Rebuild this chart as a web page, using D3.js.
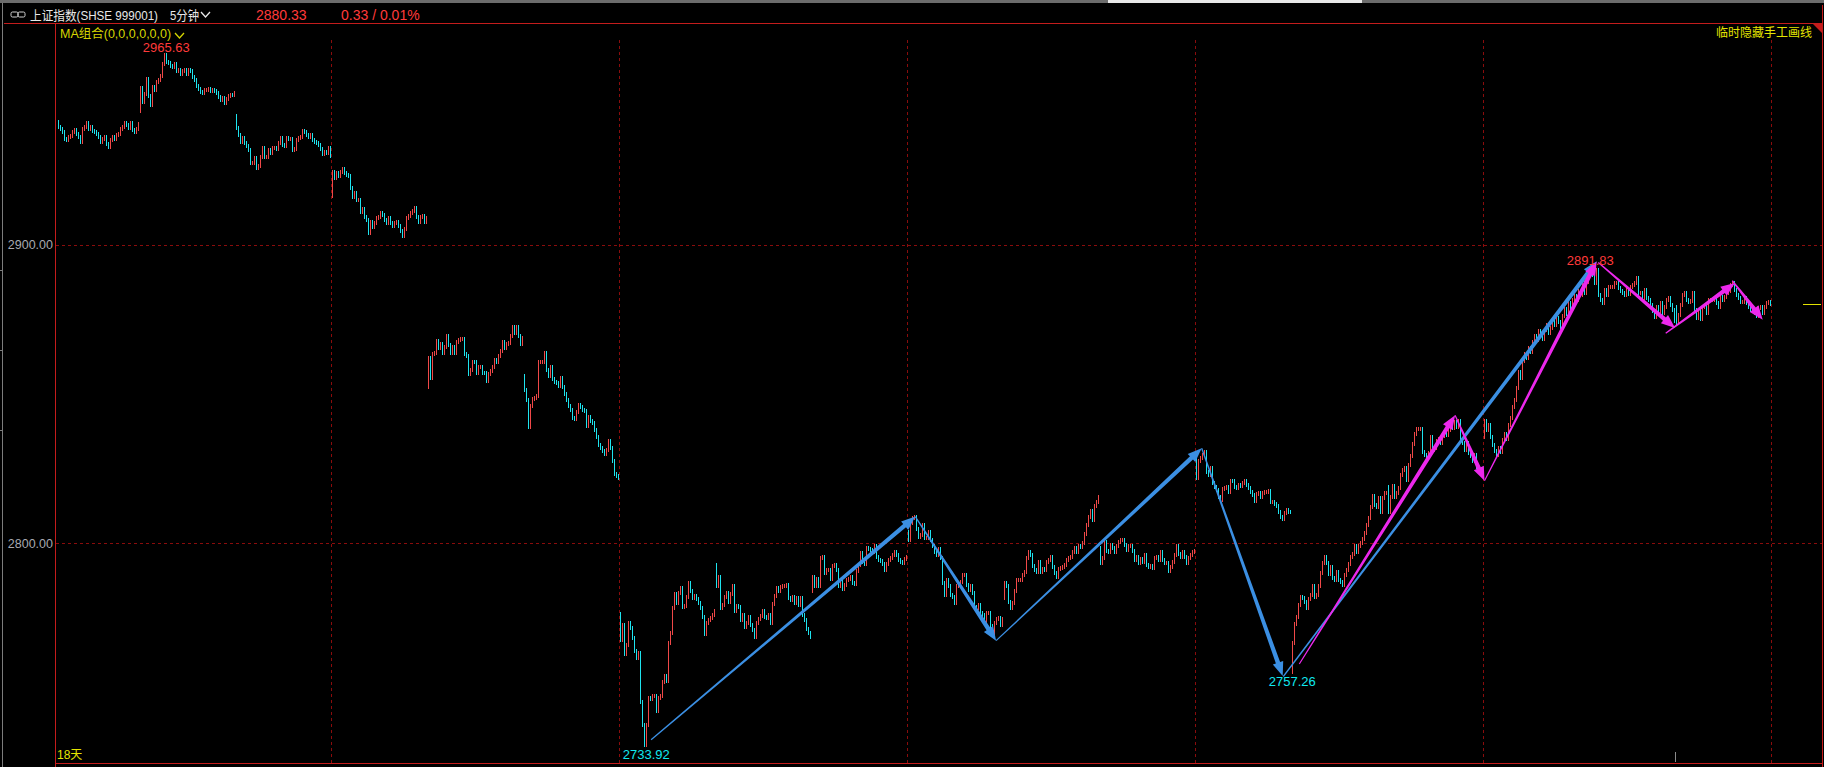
<!DOCTYPE html>
<html><head><meta charset="utf-8">
<script src="https://cdn.jsdelivr.net/npm/d3@7"></script>
<style>
html,body{margin:0;padding:0;background:#000;overflow:hidden;}
svg{display:block;}
</style></head>
<body>
<svg id="c" width="1824" height="767"></svg>
<script>
// ---------------- data ----------------
const firstVisibleBar = 7;      // bars of day 1 before this one are scrolled off the left edge
const barsPerDay = 48;          // 5-minute bars per session
const dayCount = 18;
const yTicks = [2900, 2800];
const tickLabels = ["2900.00", "2800.00"];
const dayOpens = [2941.3, 2945.0, 2943.2, 2916.5, 2852.3, 2856.1, 2776.3, 2792.7, 2783.8,
                  2803.6, 2781.5, 2798.3, 2829.6, 2756.9, 2818.8, 2835.5, 2884.0, 2879.3];
const closes = [
 [2939.4,2938.8,2938.0,2935.4,2935.2,2936.1,2936.5,2937.7,2938.6,2937.2,2936.1,2934.6,2938.8,2939.4,2941.0,2938.8,2939.4,2938.3,2937.7,2937.1,2936.1,2934.6,2935.6,2936.1,2933.9,2932.7,2935.2,2936.1,2935.6,2936.8,2937.2,2939.0,2939.4,2941.0,2940.1,2939.2,2940.8,2938.6,2938.0,2939.0,2940.6],
 [2952.5,2948.0,2950.5,2955.5,2950.0,2947.0,2953.0,2952.0,2954.7,2955.2,2956.6,2960.7,2963.6,2961.2,2961.0,2960.0,2959.6,2960.6,2958.2,2958.5,2957.2,2958.3,2958.6,2957.4,2958.6,2958.4,2956.3,2955.3,2953.2,2952.3,2951.3,2951.0,2951.8,2952.0,2952.3,2951.5,2951.8,2951.5,2951.0,2949.6,2948.5,2949.2,2947.7,2949.0,2950.0,2950.4,2950.2,2950.8],
 [2939.1,2936.9,2934.6,2936.0,2934.1,2933.2,2931.8,2927.4,2927.6,2929.0,2925.9,2926.3,2929.6,2932.4,2929.4,2929.6,2931.8,2930.7,2932.4,2932.4,2932.0,2934.1,2935.8,2933.5,2933.2,2935.8,2935.5,2935.5,2931.8,2932.0,2935.2,2935.8,2936.1,2938.3,2937.7,2936.9,2936.3,2936.9,2935.2,2934.6,2934.1,2933.5,2932.0,2930.5,2931.3,2930.7,2932.4,2929.8],
 [2924.5,2922.5,2924.0,2923.0,2924.5,2925.5,2924.0,2923.5,2923.0,2919.0,2916.0,2917.3,2914.9,2914.9,2911.2,2912.1,2909.5,2908.2,2904.1,2907.8,2906.1,2907.3,2909.0,2909.5,2910.6,2910.1,2908.4,2907.3,2908.9,2907.3,2906.4,2907.5,2907.8,2906.2,2904.5,2903.0,2905.3,2909.0,2909.7,2910.6,2911.5,2912.3,2909.2,2907.8,2909.2,2909.7,2907.8,2909.0],
 [2862.0,2855.5,2863.5,2863.7,2867.8,2865.4,2866.7,2863.7,2865.9,2869.3,2866.5,2863.9,2865.9,2863.7,2867.4,2868.2,2868.4,2868.5,2863.5,2862.8,2856.7,2857.9,2860.9,2860.7,2857.2,2859.0,2859.2,2857.2,2857.0,2854.5,2856.7,2857.8,2859.2,2861.5,2860.6,2862.6,2864.5,2867.4,2865.6,2866.7,2867.0,2869.3,2872.6,2870.4,2872.6,2869.3,2866.8,2868.9],
 [2851.2,2848.0,2839.1,2846.0,2848.4,2848.6,2849.4,2860.6,2860.6,2860.9,2863.9,2857.9,2856.1,2859.0,2855.0,2854.2,2853.6,2852.8,2855.3,2852.2,2849.9,2848.0,2846.0,2844.7,2842.1,2841.6,2844.0,2846.4,2845.6,2844.7,2844.3,2839.3,2842.4,2840.8,2840.2,2837.8,2835.7,2833.0,2831.8,2830.9,2830.0,2831.3,2834.2,2831.8,2827.7,2823.2,2822.4,2822.0],
 [2767.4,2772.6,2762.8,2765.9,2773.2,2771.5,2768.1,2763.7,2761.4,2763.1,2746.6,2739.1,2732.3,2739.1,2748.0,2747.6,2748.6,2748.8,2743.6,2748.0,2748.6,2753.3,2755.5,2753.8,2766.5,2770.0,2778.2,2783.0,2779.9,2783.2,2784.9,2778.5,2779.0,2781.8,2786.6,2784.1,2781.6,2782.3,2781.2,2779.9,2778.2,2775.4,2769.6,2773.2,2774.3,2774.9,2776.0,2777.4],
 [2785.5,2788.6,2778.2,2779.3,2782.1,2783.2,2780.4,2783.0,2785.5,2777.4,2778.8,2778.5,2774.3,2775.9,2772.0,2773.4,2775.4,2772.6,2770.9,2768.7,2773.2,2774.5,2775.6,2777.4,2775.4,2774.9,2776.0,2773.4,2779.7,2782.3,2784.9,2783.8,2785.2,2785.5,2785.7,2786.0,2781.6,2781.0,2781.9,2779.9,2781.6,2779.3,2781.6,2776.0,2774.3,2771.2,2769.8,2768.5],
 [2788.6,2785.5,2787.9,2785.7,2795.0,2795.5,2790.0,2791.0,2791.0,2787.9,2792.4,2792.7,2791.0,2785.5,2787.5,2784.6,2786.0,2787.5,2787.9,2788.6,2786.6,2786.4,2790.8,2792.7,2796.6,2793.8,2793.1,2798.3,2798.0,2797.8,2797.2,2798.9,2795.5,2794.2,2793.9,2793.1,2791.1,2793.1,2794.2,2795.0,2796.1,2796.9,2796.1,2794.4,2793.8,2793.3,2794.7,2795.5],
 [2801.1,2806.7,2808.4,2808.9,2804.7,2802.2,2802.8,2806.1,2801.7,2801.7,2803.6,2801.1,2799.1,2797.2,2796.1,2798.0,2795.0,2786.8,2782.7,2787.7,2785.5,2782.7,2782.1,2780.1,2785.5,2786.8,2787.1,2789.4,2789.4,2786.0,2784.3,2785.7,2783.2,2778.7,2778.2,2779.3,2776.5,2776.0,2773.2,2776.5,2776.5,2772.1,2770.0,2773.2,2774.5,2774.8,2772.6,2774.5],
 [2786.8,2785.7,2780.4,2778.2,2780.1,2783.8,2787.7,2787.7,2787.7,2789.4,2790.5,2794.9,2797.2,2796.1,2792.2,2791.1,2790.5,2793.8,2790.2,2791.3,2791.1,2793.8,2794.4,2795.5,2791.9,2789.9,2788.6,2791.3,2791.6,2791.9,2792.7,2794.4,2794.9,2795.5,2796.9,2798.3,2797.2,2798.9,2798.6,2800.2,2803.0,2806.1,2808.9,2810.9,2807.8,2812.5,2813.9,2815.4],
 [2793.3,2795.0,2800.5,2797.5,2796.9,2799.4,2798.3,2796.9,2798.9,2800.5,2801.1,2801.1,2799.4,2797.8,2798.9,2798.9,2797.5,2794.4,2795.3,2793.3,2794.6,2793.8,2796.1,2792.7,2792.0,2792.2,2791.6,2794.9,2795.3,2794.2,2797.2,2794.4,2793.3,2793.3,2790.8,2792.0,2793.8,2796.1,2798.9,2796.4,2795.3,2797.2,2795.3,2793.3,2794.9,2796.1,2796.9,2797.5],
 [2821.8,2827.4,2828.5,2829.6,2830.7,2824.0,2822.9,2825.1,2820.1,2819.0,2817.9,2815.6,2814.5,2818.1,2818.4,2818.8,2817.3,2821.0,2820.7,2818.8,2818.4,2819.6,2819.2,2820.1,2820.7,2819.6,2818.4,2817.3,2816.2,2814.2,2816.4,2816.7,2815.4,2816.7,2817.0,2817.3,2817.6,2813.9,2813.9,2813.1,2812.5,2810.6,2808.9,2808.0,2810.0,2811.1,2810.6,2810.3],
 [2766.6,2772.9,2775.4,2779.3,2782.1,2781.5,2780.4,2778.2,2781.2,2782.7,2785.5,2782.1,2782.7,2785.7,2789.9,2793.3,2795.5,2793.3,2789.7,2791.9,2788.3,2787.7,2790.5,2787.7,2787.1,2786.0,2789.4,2791.1,2793.0,2795.5,2796.4,2798.9,2797.2,2798.9,2800.0,2801.3,2803.3,2806.1,2808.4,2812.1,2815.8,2812.8,2812.0,2815.1,2810.6,2815.1,2816.7,2816.7],
 [2810.6,2815.6,2819.2,2815.6,2816.7,2818.4,2822.9,2824.6,2825.1,2821.2,2826.2,2829.3,2833.3,2836.6,2838.2,2838.2,2838.2,2830.7,2829.6,2829.3,2830.2,2835.7,2831.3,2831.8,2834.1,2835.0,2833.5,2836.0,2837.0,2836.3,2837.8,2839.6,2838.5,2840.5,2839.1,2840.8,2834.6,2833.5,2831.3,2833.5,2830.2,2829.1,2827.4,2829.6,2825.7,2824.6,2823.5,2822.9],
 [2841.0,2838.0,2839.5,2835.5,2833.0,2831.0,2829.5,2832.0,2830.5,2834.5,2836.5,2835.0,2839.5,2842.0,2845.5,2848.0,2852.0,2857.5,2855.5,2861.0,2863.5,2862.0,2865.5,2864.0,2867.5,2869.5,2868.0,2871.0,2870.0,2868.5,2871.5,2873.0,2870.5,2872.0,2874.5,2873.0,2875.5,2874.0,2872.5,2876.0,2878.5,2877.0,2880.5,2879.0,2881.5,2883.0,2881.5,2884.5],
 [2883.2,2887.2,2883.8,2887.7,2890.5,2891.1,2890.0,2887.2,2891.5,2883.2,2881.6,2880.4,2884.9,2883.2,2886.0,2886.0,2886.0,2887.2,2887.2,2885.5,2884.4,2883.8,2883.2,2884.9,2883.6,2886.0,2886.6,2887.2,2888.8,2883.8,2883.8,2882.1,2884.9,2882.1,2881.6,2879.9,2877.7,2875.7,2879.3,2877.7,2880.4,2877.3,2879.3,2881.6,2882.1,2879.9,2878.2,2874.5],
 [2873.8,2876.5,2879.9,2883.2,2883.8,2881.6,2881.0,2881.3,2883.8,2878.2,2875.4,2878.2,2875.1,2879.3,2879.3,2877.1,2881.6,2881.6,2881.6,2882.1,2880.4,2879.3,2882.7,2881.6,2882.7,2883.8,2884.4,2886.6,2887.2,2884.9,2883.2,2882.1,2881.0,2881.0,2882.1,2880.4,2879.3,2878.2,2877.7,2877.1,2876.0,2878.8,2879.3,2877.3,2879.3,2880.4,2881.0,2880.33]
];
const lastPrice = 2880.33;
// hand-drawn trend arrows: [startBar, startPrice, endBar, endPrice]
const blueArrows = [
 [303.4, 2734.1, 435.5, 2808.9],
 [435.5, 2808.9, 475.9, 2767.3],
 [475.9, 2767.3, 578.7, 2831.8],
 [578.7, 2831.8, 619.2, 2755.5],
 [619.5, 2755.3, 776.2, 2894.5]
];
const pinkArrows = [
 [627.5, 2759.5, 705.4, 2842.9],
 [705.4, 2842.9, 720.1, 2820.9],
 [720.1, 2820.9, 776.2, 2894.4],
 [777.0, 2894.1, 815.4, 2872.1],
 [810.7, 2870.4, 845.3, 2887.2],
 [844.0, 2888.0, 859.2, 2874.9]
];
// extreme price marks: bar, value, text
const markBars = [61, 301, 624, 776];
const markValues = [2965.63, 2733.92, 2757.26, 2891.83];
const markTexts = ["2965.63", "2733.92", "2757.26", "2891.83"];

// ---------------- drawing ----------------
const W = 1824, H = 767;
const plot = {left: 55, right: 1822, top: 23, bottom: 763};
const svg = d3.select("#c");
const x = d3.scaleLinear().domain([0, barsPerDay * dayCount]).range([43.3, 43.3 + 2 * barsPerDay * dayCount]);
const y = d3.scaleLinear().domain([2726.3, 2974.4]).range([plot.bottom, plot.top]);

const RED = "#f04848", CYAN = "#1ee3ee", GRID = "#8a0c0c", BORDER = "#c41c1c";
const NUMF = "'Liberation Sans', Arial, sans-serif";
const CJKF = "'Liberation Sans', 'Noto Sans CJK SC', sans-serif";

svg.append("rect").attr("width", W).attr("height", H).attr("fill", "#000");
// top strip
svg.append("rect").attr("x", 0).attr("y", 0).attr("width", W).attr("height", 3).attr("fill", "#6c6c6c");
svg.append("rect").attr("x", 1108).attr("y", 0).attr("width", 254).attr("height", 3).attr("fill", "#e8e8e8");

// defs clip
svg.append("defs").append("clipPath").attr("id", "pc").append("rect")
  .attr("x", plot.left + 1).attr("y", plot.top + 1)
  .attr("width", plot.right - plot.left - 1).attr("height", plot.bottom - plot.top - 1);

// grid: horizontal
const gridG = svg.append("g");
gridG.selectAll("line.h").data(yTicks).join("line")
  .attr("x1", plot.left + 1).attr("x2", plot.right)
  .attr("y1", d => Math.round(y(d)) + 0.5).attr("y2", d => Math.round(y(d)) + 0.5)
  .attr("stroke", GRID).attr("stroke-dasharray", "3,3");
// grid: vertical every 3 sessions
const vLines = d3.range(1, dayCount / 3 + 1).map(i => i * 3 * barsPerDay);
gridG.selectAll("line.v").data(vLines).join("line")
  .attr("x1", d => Math.round(x(d)) + 0.5).attr("x2", d => Math.round(x(d)) + 0.5)
  .attr("y1", 40).attr("y2", plot.bottom)
  .attr("stroke", GRID).attr("stroke-dasharray", "3,3");

// y tick labels
svg.selectAll("text.yt").data(yTicks).join("text")
  .attr("x", 53).attr("y", d => y(d) + 4.5).attr("text-anchor", "end")
  .attr("font-family", NUMF).attr("font-size", 12.5).attr("fill", "#a7a9b0")
  .text((d, i) => tickLabels[i]);

// build bars
const bars = [];
closes.forEach((day, d) => {
  let prev = dayOpens[d];
  day.forEach((c, k) => {
    const g = d === 0 ? firstVisibleBar + k : d * barsPerDay + k;
    bars.push({g, o: prev, c});
    prev = c;
  });
});
const barG = svg.append("g").attr("clip-path", "url(#pc)");
barG.selectAll("line").data(bars).join("line")
  .attr("x1", d => Math.floor(x(d.g + 0.5)) + 0.5)
  .attr("x2", d => Math.floor(x(d.g + 0.5)) + 0.5)
  .attr("y1", d => Math.round(y(Math.max(d.o, d.c))) - 2)
  .attr("y2", d => Math.round(y(Math.min(d.o, d.c))) + 2)
  .attr("stroke", d => d.c >= d.o ? RED : CYAN).attr("stroke-width", 1)
  .attr("shape-rendering", "crispEdges");

// arrows
function arrowPath(a) {
  const p0 = [x(a[0] + 0.5), y(a[1])], p1 = [x(a[2] + 0.5), y(a[3])];
  const dx = p1[0] - p0[0], dy = p1[1] - p0[1], len = Math.hypot(dx, dy);
  const ux = dx / len, uy = dy / len, nx = -uy, ny = ux;
  const L = 14, HW = 5.5, w0 = 0.6, w1 = 2.2;
  const b = [p1[0] - ux * L, p1[1] - uy * L];
  const pts = [
    [p0[0] + nx * w0, p0[1] + ny * w0],
    [b[0] + nx * w1, b[1] + ny * w1],
    [b[0] + nx * HW, b[1] + ny * HW],
    p1,
    [b[0] - nx * HW, b[1] - ny * HW],
    [b[0] - nx * w1, b[1] - ny * w1],
    [p0[0] - nx * w0, p0[1] - ny * w0]
  ];
  return "M" + pts.map(p => p[0].toFixed(1) + "," + p[1].toFixed(1)).join("L") + "Z";
}
const arrG = svg.append("g").attr("clip-path", "url(#pc)");
arrG.selectAll("path.b").data(blueArrows).join("path").attr("d", arrowPath).attr("fill", "#3b8fe3");
arrG.selectAll("path.p").data(pinkArrows).join("path").attr("d", arrowPath).attr("fill", "#ec28ec");

// extreme marks
const markDy = [-1.5, 14, 11, -9];
const markCol = ["#ff3a3a", "#10e8f0", "#10e8f0", "#ff3a3a"];
svg.selectAll("text.mk").data(markBars).join("text")
  .attr("x", (d, i) => x(d + 0.5) + (i === 3 ? -6 : 0))
  .attr("y", (d, i) => y(markValues[i]) + markDy[i] + 4.5)
  .attr("text-anchor", "middle").attr("font-family", NUMF).attr("font-size", 13)
  .attr("fill", (d, i) => markCol[i]).text((d, i) => markTexts[i]);

// current price marker
svg.append("line").attr("x1", 1803).attr("x2", 1821)
  .attr("y1", Math.round(y(lastPrice)) + 0.5).attr("y2", Math.round(y(lastPrice)) + 0.5)
  .attr("stroke", "#e2e200");

// borders
const bd = svg.append("g").attr("stroke", BORDER).attr("shape-rendering", "crispEdges");
bd.append("line").attr("x1", 4).attr("x2", plot.right).attr("y1", plot.top + 0.5).attr("y2", plot.top + 0.5);
bd.append("line").attr("x1", plot.left + 0.5).attr("x2", plot.left + 0.5).attr("y1", plot.top).attr("y2", H);
bd.append("line").attr("x1", plot.left).attr("x2", plot.right).attr("y1", plot.bottom + 0.5).attr("y2", plot.bottom + 0.5);
bd.append("line").attr("x1", plot.right + 0.5).attr("x2", plot.right + 0.5).attr("y1", 5).attr("y2", H);
// left gray rail
svg.append("line").attr("x1", 2.5).attr("x2", 2.5).attr("y1", 3).attr("y2", H).attr("stroke", "#7c7c7c");
[270, 350, 430].forEach(t => svg.append("line").attr("x1", 0).attr("x2", 3).attr("y1", t + 0.5).attr("y2", t + 0.5).attr("stroke", "#7c7c7c"));
// corner triangle
svg.append("path").attr("d", "M1813,24L1822,24L1822,33Z").attr("fill", "#c41c1c");
// bottom small tick
svg.append("line").attr("x1", 1675.5).attr("x2", 1675.5).attr("y1", 752).attr("y2", 762).attr("stroke", "#8a8a8a");

// header texts
const hdr = svg.append("g");
hdr.append("rect").attr("x", 11).attr("y", 12).attr("width", 7).attr("height", 5).attr("rx", 1.5)
  .attr("fill", "none").attr("stroke", "#d0d0d0");
hdr.append("rect").attr("x", 18).attr("y", 12).attr("width", 7).attr("height", 5).attr("rx", 1.5)
  .attr("fill", "none").attr("stroke", "#d0d0d0");
hdr.append("text").attr("x", 30).attr("y", 19.5).attr("font-family", CJKF).attr("font-size", 13)
  .attr("textLength", 128).attr("lengthAdjust", "spacingAndGlyphs")
  .attr("fill", "#e8e8e8").text("上证指数(SHSE 999001)");
hdr.append("text").attr("x", 170).attr("y", 19.5).attr("font-family", CJKF).attr("font-size", 13)
  .attr("textLength", 29).attr("lengthAdjust", "spacingAndGlyphs")
  .attr("fill", "#e8e8e8").text("5分钟");
hdr.append("path").attr("d", "M201,12L205.5,17L210,12").attr("fill", "none").attr("stroke", "#e8e8e8").attr("stroke-width", 1.3);
hdr.append("text").attr("x", 256).attr("y", 19.5).attr("font-family", NUMF).attr("font-size", 14)
  .attr("fill", "#ff3a3a").text("2880.33");
hdr.append("text").attr("x", 341).attr("y", 19.5).attr("font-family", NUMF).attr("font-size", 14)
  .attr("fill", "#ff3a3a").text("0.33 / 0.01%");

svg.append("text").attr("x", 60).attr("y", 38).attr("font-family", CJKF).attr("font-size", 12.5)
  .attr("fill", "#d6d600").text("MA组合(0,0,0,0,0,0)");
svg.append("path").attr("d", "M175,33L179.5,38L184,33").attr("fill", "none").attr("stroke", "#d6d600").attr("stroke-width", 1.3);
svg.append("text").attr("x", 1812).attr("y", 37).attr("text-anchor", "end").attr("font-family", CJKF)
  .attr("font-size", 12).attr("fill", "#e4e400").text("临时隐藏手工画线");
svg.append("text").attr("x", 57).attr("y", 759).attr("font-family", CJKF).attr("font-size", 12)
  .attr("fill", "#e4e400").text("18天");
</script>
</body></html>
